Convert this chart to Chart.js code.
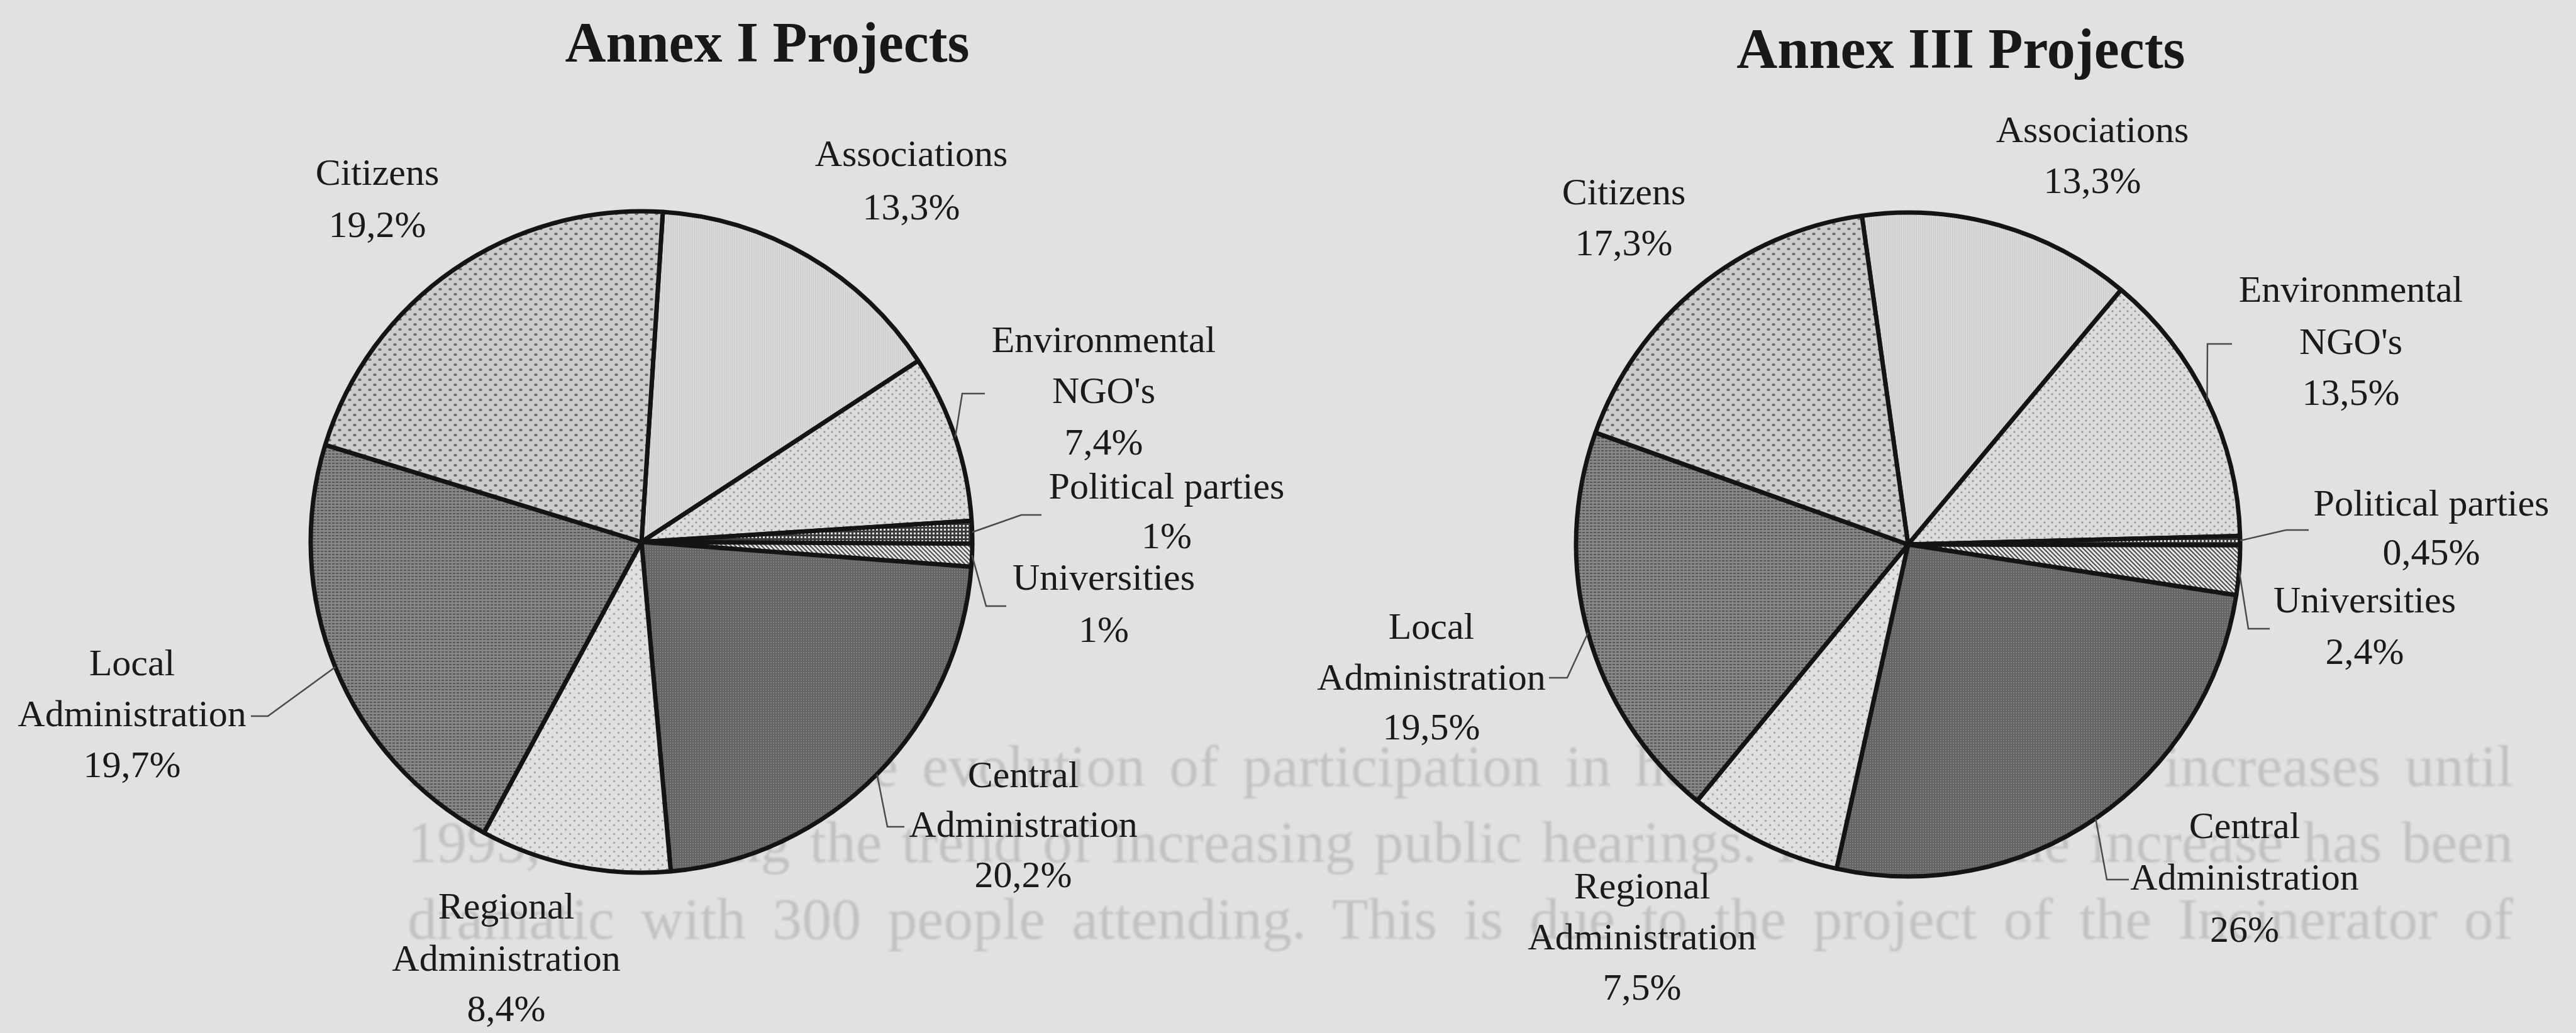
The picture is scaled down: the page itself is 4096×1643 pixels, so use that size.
<!DOCTYPE html>
<html>
<head>
<meta charset="utf-8">
<title>Annex I and Annex III Projects</title>
<script src="https://cdn.jsdelivr.net/npm/chart.js@4.4.1/dist/chart.umd.min.js"></script>
<style>
  html, body { margin: 0; padding: 0; background: #e1e1e1; }
  body { width: 4096px; height: 1643px; position: relative; overflow: hidden; }
  .page-text {
    position: absolute; left: 648px; width: 3348px;
    font: 94px "Liberation Serif", "Times New Roman", serif;
    color: #c2c2c2; filter: blur(1.5px);
    text-align: justify; text-align-last: justify; white-space: nowrap;
  }
  .pie-box { position: absolute; top: 0; width: 2048px; height: 1643px; }
</style>
</head>
<body>
<div class="page-text" style="top:1164px">Fig 9.5 presents the evolution of participation in hearings. Attendance increases until</div>
<div class="page-text" style="top:1285px">1995, following the trend of increasing public hearings. In 1995, the increase has been</div>
<div class="page-text" style="top:1407px">dramatic with 300 people attending. This is due to the project of the Incinerator of</div>

<div class="pie-box" style="left:0"><canvas id="annexI" width="2048" height="1643"></canvas></div>
<div class="pie-box" style="left:2048px"><canvas id="annexIII" width="2048" height="1643"></canvas></div>

<script>
// Participant groups, in drawing order (clockwise from the top)
const categories = ["Associations", "Environmental NGO's", "Political parties", "Universities",
    "Central Administration", "Regional Administration", "Local Administration", "Citizens"];
const labelLines = [["Associations"], ["Environmental", "NGO's"], ["Political parties"], ["Universities"],
    ["Central", "Administration"], ["Regional", "Administration"], ["Local", "Administration"], ["Citizens"]];

// Shares of participants (%)
const annexIShares = [13.3, 7.4, 1, 1, 20.2, 8.4, 19.7, 19.2];
const annexIIIShares = [13.3, 13.5, 0.45, 2.4, 26, 7.5, 19.5, 17.3];

const titles = ["Annex I Projects", "Annex III Projects"];

const FONT = '"Liberation Serif", "Times New Roman", serif';

// ---- screen-tone fills ----
function tile(w, h, bg, paint) {
    const c = document.createElement("canvas");
    c.width = w; c.height = h;
    const g = c.getContext("2d");
    g.fillStyle = bg;
    g.fillRect(0, 0, w, h);
    paint(g);
    return g.createPattern(c, "repeat");
}

function checkerDots(bg, fg, step, rx, ry) {
    return tile(step * 2, step * 2, bg, g => {
        g.fillStyle = fg;
        [[step / 2, step / 2], [step * 1.5, step * 1.5]].forEach(([x, y]) => {
            g.beginPath();
            g.ellipse(x, y, rx, ry, 0, 0, Math.PI * 2);
            g.fill();
        });
    });
}

const fills = [
    // Associations: fine vertical rules
    tile(3, 3, "#dbdbdb", g => { g.fillStyle = "#c8c8c8"; g.fillRect(0, 0, 1, 3); }),
    // Environmental NGO's
    checkerDots("#dcdcdc", "#929292", 6, 1.6, 1.5),
    // Political parties
    tile(6, 6, "#3c3c3c", g => { g.fillStyle = "#e6e6e6"; g.fillRect(1, 1, 3, 3); }),
    // Universities: diagonal dashes
    tile(7, 7, "#ececec", g => {
        g.strokeStyle = "#505050"; g.lineWidth = 2.2;
        g.beginPath(); g.moveTo(-1, -1); g.lineTo(8, 8); g.stroke();
        g.beginPath(); g.moveTo(-8, -1); g.lineTo(1, 8); g.stroke();
        g.beginPath(); g.moveTo(6, -1); g.lineTo(15, 8); g.stroke();
    }),
    // Central Administration
    tile(4, 4, "#656565", g => { g.fillStyle = "#8e8e8e"; g.fillRect(1, 1, 1.5, 1.5); }),
    // Regional Administration
    checkerDots("#e0e0e0", "#a6a6a6", 7, 1.7, 1.7),
    // Local Administration
    tile(6, 5, "#878787", g => { g.fillStyle = "#555555"; g.fillRect(0, 1, 4, 2); }),
    // Citizens
    checkerDots("#cdcdcd", "#727272", 8, 2.8, 2.1)
];

// ---- label layout (page coordinates) ----
const layoutI = {
    title: { x: 1220, y: 98 },
    labels: [
        { x: 1449, ys: [248, 333] },
        { x: 1755, ys: [544, 625, 707], elbow: [1530, 626], end: [1566, 626] },
        { x: 1855, ys: [777, 856], elbow: [1624, 819], end: [1656, 819] },
        { x: 1755, ys: [922, 1005], elbow: [1568, 964], end: [1600, 964] },
        { x: 1627, ys: [1236, 1315, 1395], elbow: [1411, 1315], end: [1438, 1315] },
        { x: 805, ys: [1445, 1528, 1608] },
        { x: 210, ys: [1058, 1139, 1220], elbow: [426, 1139], end: [399, 1139] },
        { x: 600, ys: [278, 361] }
    ]
};
const layoutIII = {
    title: { x: 3118, y: 108 },
    labels: [
        { x: 3327, ys: [210, 291] },
        { x: 3738, ys: [464, 547, 628], elbow: [3510, 547], end: [3549, 547] },
        { x: 3866, ys: [804, 882], elbow: [3635, 843], end: [3671, 843] },
        { x: 3760, ys: [958, 1040], elbow: [3575, 1000], end: [3609, 1000] },
        { x: 3569, ys: [1317, 1399, 1482], elbow: [3350, 1399], end: [3385, 1399] },
        { x: 2611, ys: [1413, 1494, 1574] },
        { x: 2276, ys: [1000, 1081, 1160], elbow: [2492, 1078], end: [2463, 1078] },
        { x: 2582, ys: [309, 390] }
    ]
};

function pct(v) {
    return String(v).replace(".", ",") + "%";
}

// Draws the title, the category labels and the leader lines onto the pie's canvas
const pieLabels = {
    id: "pieLabels",
    afterDraw(chart, args, opts) {
        const ctx = chart.ctx;
        const dx = opts.offsetX;
        const layout = opts.layout;
        const values = chart.data.datasets[0].data;
        const arcs = chart.getDatasetMeta(0).data;
        ctx.save();

        ctx.fillStyle = "#181818";
        ctx.font = "bold 90px " + FONT;
        ctx.textAlign = "center";
        ctx.textBaseline = "alphabetic";
        ctx.fillText(opts.title, layout.title.x - dx, layout.title.y);

        ctx.strokeStyle = "#4a4a4a";
        ctx.lineWidth = 2.5;
        ctx.lineJoin = "miter";
        layout.labels.forEach((lab, i) => {
            if (!lab.elbow) return;
            const a = arcs[i].getProps(["x", "y", "startAngle", "endAngle", "outerRadius"], true);
            const mid = (a.startAngle + a.endAngle) / 2;
            ctx.beginPath();
            ctx.moveTo(a.x + Math.cos(mid) * a.outerRadius, a.y + Math.sin(mid) * a.outerRadius);
            ctx.lineTo(lab.elbow[0] - dx, lab.elbow[1]);
            ctx.lineTo(lab.end[0] - dx, lab.end[1]);
            ctx.stroke();
        });

        ctx.fillStyle = "#1a1a1a";
        ctx.font = "60px " + FONT;
        ctx.textBaseline = "middle";
        layout.labels.forEach((lab, i) => {
            const lines = labelLines[i].concat([pct(values[i])]);
            lines.forEach((t, k) => ctx.fillText(t, lab.x - dx, lab.ys[k]));
        });
        ctx.restore();
    }
};

function makePie(canvasId, shares, rotation, radius, padding, title, layout, offsetX) {
    return new Chart(document.getElementById(canvasId), {
        type: "pie",
        data: {
            labels: categories,
            datasets: [{
                data: shares,
                backgroundColor: fills,
                borderColor: "#141414",
                borderWidth: 7,
                radius: radius
            }]
        },
        options: {
            responsive: false,
            devicePixelRatio: 1,
            animation: false,
            rotation: rotation,
            layout: { padding: padding },
            plugins: {
                legend: { display: false },
                tooltip: { enabled: false },
                pieLabels: { title: title, layout: layout, offsetX: offsetX }
            }
        },
        plugins: [pieLabels]
    });
}

makePie("annexI", annexIShares, 3.7, 526,
    { left: 491, right: 499, top: 333, bottom: 252 }, titles[0], layoutI, 0);
makePie("annexIII", annexIIIShares, -8, 528,
    { left: 453, right: 529, top: 333, bottom: 244 }, titles[1], layoutIII, 2048);
</script>
</body>
</html>
